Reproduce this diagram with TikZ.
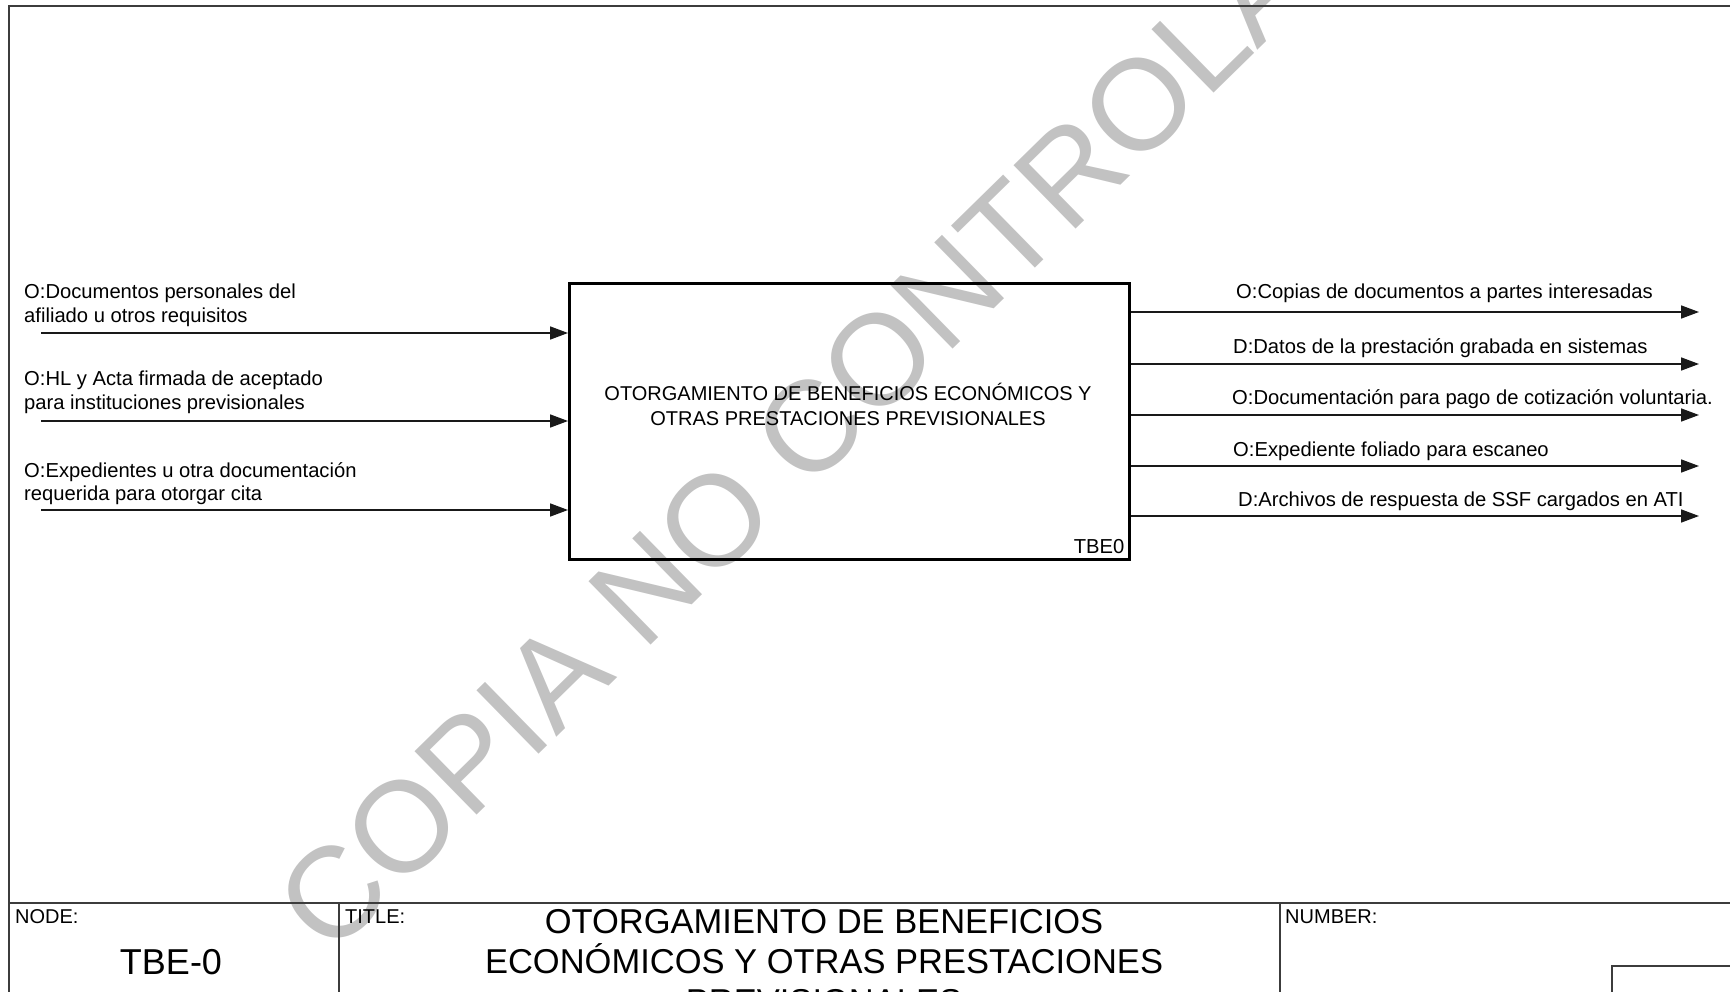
\documentclass[tikz,border=0pt]{standalone}
\usepackage{fontspec}
\setmainfont{Liberation Sans}
\usetikzlibrary{arrows.meta,positioning}
\definecolor{wmgray}{RGB}{194,194,194}
\definecolor{linegray}{RGB}{60,60,60}
\tikzset{
  flow/.style={draw=black!90, line width=1.6pt, -{Triangle[length=18pt,width=13pt]}},
  frame/.style={draw=linegray, line width=1.8pt},
  lbl/.style={inner sep=0pt, align=left, font=\fontsize{20.2}{23.5}\selectfont},
  hdr/.style={inner sep=0pt, anchor=base west, font=\fontsize{20}{23}\selectfont}
}
\begin{document}
\begin{tikzpicture}[x=1pt,y=-1pt]
\useasboundingbox (0,0) rectangle (1730,992);
\clip (0,0) rectangle (1730,992);
\node[rotate=44.4, text=wmgray, inner sep=0pt, font=\fontsize{129}{129}\selectfont] (wm) at (858,380) {COPIA NO CONTROLADA};
\draw[frame] (9,992) -- (9,6) -- (1730,6);
\draw[frame] (9,903) -- (1730,903);
\draw[frame] (339,903) -- (339,992);
\draw[frame] (1280,903) -- (1280,992);
\draw[frame] (1612,992) -- (1612,966) -- (1730,966);
\node[draw, line width=2.6pt, minimum width=560pt, minimum height=276pt, inner sep=0pt, anchor=north west] (tbe) at (568,282) {};
\node[anchor=north, align=center, inner sep=0pt, font=\fontsize{20}{25}\selectfont] (tbetext) at (848,383) {OTORGAMIENTO DE BENEFICIOS ECONÓMICOS Y\\OTRAS PRESTACIONES PREVISIONALES};
\node[lbl, above left=7pt and 6pt of tbe.south east] (tbenum) {TBE0};
\coordinate (in0) at (41,333);
\coordinate (in1) at (41,421);
\coordinate (in2) at (41,510);
\draw[flow] (in0) -- (in0 -| tbe.west);
\draw[flow] (in1) -- (in1 -| tbe.west);
\draw[flow] (in2) -- (in2 -| tbe.west);
\node[lbl, anchor=north west] (inlbl0) at (24,284) {O:Documentos personales del\\afiliado u otros requisitos};
\node[lbl, anchor=north west] (inlbl1) at (24,371) {O:HL y Acta firmada de aceptado\\para instituciones previsionales};
\node[lbl, anchor=north west] (inlbl2) at (24,462) {O:Expedientes u otra documentación\\requerida para otorgar cita};
\coordinate (out0) at (1699,312);
\coordinate (out1) at (1699,364);
\coordinate (out2) at (1699,415);
\coordinate (out3) at (1699,466);
\coordinate (out4) at (1699,516);
\draw[flow] (out0 -| tbe.east) -- (out0);
\draw[flow] (out1 -| tbe.east) -- (out1);
\draw[flow] (out2 -| tbe.east) -- (out2);
\draw[flow] (out3 -| tbe.east) -- (out3);
\draw[flow] (out4 -| tbe.east) -- (out4);
\node[lbl, anchor=base west] (outlbl0) at (1236,299) {O:Copias de documentos a partes interesadas};
\node[lbl, anchor=base west] (outlbl1) at (1233,353) {D:Datos de la prestación grabada en sistemas};
\node[lbl, anchor=base west] (outlbl2) at (1232,404) {O:Documentación para pago de cotización voluntaria.};
\node[lbl, anchor=base west] (outlbl3) at (1233,456) {O:Expediente foliado para escaneo};
\node[lbl, anchor=base west] (outlbl4) at (1238,506) {D:Archivos de respuesta de SSF cargados en ATI};
\node[hdr] (nodehdr) at (15,923) {NODE:};
\node[hdr] (titlehdr) at (345,923) {TITLE:};
\node[hdr] (numhdr) at (1285,923) {NUMBER:};
\node[inner sep=0pt, anchor=base, font=\fontsize{36}{36}\selectfont] (nodeid) at (171,974) {TBE-0};
\node[anchor=north, align=center, inner sep=0pt, font=\fontsize{34.5}{40}\selectfont] (title) at (824,909) {OTORGAMIENTO DE BENEFICIOS\\ECONÓMICOS Y OTRAS PRESTACIONES\\PREVISIONALES};
\end{tikzpicture}
\end{document}
